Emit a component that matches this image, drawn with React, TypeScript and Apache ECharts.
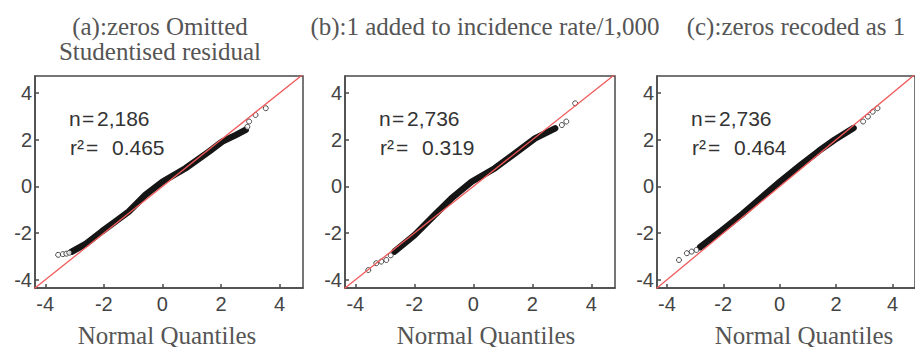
import React, { useEffect, useRef } from "react";
import * as echarts from "echarts";

// Tick values shared by all panels
const tickValues = [-4, -2, 0, 2, 4];

// Panel titles and annotations
const titles = ["(a):zeros Omitted", "(b):1 added to incidence rate/1,000", "(c):zeros recoded as 1"];
const subTitle = "Studentised residual";
const xAxisName = "Normal Quantiles";
const nLabels = ["2,186", "2,736", "2,736"];
const r2Labels = ["0.465", "0.319", "0.464"];

// Q-Q bands (theoretical quantile, studentised residual)
const bandA = [[-3.09, -2.79], [-2.6, -2.45], [-2.07, -1.93], [-1.61, -1.51], [-1.15, -1.08], [-0.58, -0.36], [0, 0.2], [0.79, 0.78], [1.59, 1.49], [2.04, 1.92], [2.5, 2.2], [2.84, 2.42]];
const tailA = [[-3.56, -2.93], [-3.4, -2.9], [-3.28, -2.88], [-3.18, -2.84], [2.9, 2.55], [2.96, 2.78], [3.18, 3.06], [3.53, 3.35]];

const bandB = [[-2.67, -2.79], [-1.99, -2.08], [-1.31, -1.22], [-0.74, -0.51], [-0.06, 0.2], [0.73, 0.78], [1.41, 1.42], [2.09, 2.06], [2.77, 2.49]];
const tailB = [[-3.56, -3.58], [-3.29, -3.29], [-3.12, -3.22], [-2.95, -3.15], [-2.8, -2.95], [3.0, 2.63], [3.15, 2.78], [3.45, 3.56]];

const bandC = [[-2.82, -2.6], [-2.1, -1.93], [-1.32, -1.18], [-0.64, -0.47], [0.03, 0.22], [0.71, 0.88], [1.39, 1.52], [1.95, 2.0], [2.62, 2.5]];
const tailC = [[-3.57, -3.15], [-3.29, -2.86], [-3.12, -2.79], [-2.95, -2.72], [2.96, 2.78], [3.13, 2.99], [3.3, 3.2], [3.47, 3.35]];

const refLine = [[-6, -6], [6, 6]];

const bands = [bandA, bandB, bandC];
const tails = [tailA, tailB, tailC];

const W = 915;
const H = 347;

export default function App() {
  const ref = useRef<HTMLDivElement>(null);
  useEffect(() => {
    if (!ref.current) return;
    const chart = echarts.init(ref.current, null, { renderer: "svg" });

    const panels = [
      { left: 35, width: 268, titleX: 160, labelX: 167 },
      { left: 345, width: 270, titleX: 485, labelX: 486 },
      { left: 657, width: 268, titleX: 796, labelX: 804 },
    ];
    const top = 76;
    const height = 212;
    const axisColor = "#4a4a4a";
    const sans = "'Liberation Sans', Arial, sans-serif";
    const serif = "'Liberation Serif', 'Times New Roman', serif";

    const grid = panels.map((p) => ({
      left: p.left,
      top,
      width: p.width,
      height,
      show: true,
      borderColor: axisColor,
      borderWidth: 1.5,
      backgroundColor: "transparent",
    }));

    const xAxis = panels.map((_, i) => ({
      type: "value",
      gridIndex: i,
      min: -4.35,
      max: 4.8,
      splitLine: { show: false },
      axisLine: { show: true, onZero: false, lineStyle: { color: axisColor, width: 1.5 } },
      axisTick: { show: true, inside: true, length: 4, customValues: tickValues, lineStyle: { color: axisColor, width: 1.5 } },
      axisLabel: { customValues: tickValues, color: "#444", fontSize: 20, fontFamily: sans, margin: 6 },
    }));

    const yAxis = panels.map((_, i) => ({
      type: "value",
      gridIndex: i,
      min: -4.35,
      max: 4.73,
      splitLine: { show: false },
      axisLine: { show: true, onZero: false, lineStyle: { color: axisColor, width: 1.5 } },
      axisTick: { show: true, inside: true, length: 4, customValues: tickValues, lineStyle: { color: axisColor, width: 1.5 } },
      axisLabel: { customValues: tickValues, color: "#444", fontSize: 20, fontFamily: sans, margin: 3 },
    }));

    const series: any[] = [];
    panels.forEach((_, i) => {
      series.push({
        type: "line",
        xAxisIndex: i,
        yAxisIndex: i,
        data: bands[i],
        symbol: "none",
        lineStyle: { color: "#151515", width: 6.5, cap: "round", join: "round" },
        z: 2,
      });
      series.push({
        type: "scatter",
        xAxisIndex: i,
        yAxisIndex: i,
        data: tails[i],
        symbol: "circle",
        symbolSize: 5,
        itemStyle: { color: "#ffffff", borderColor: "#222", borderWidth: 1 },
        z: 2,
      });
      series.push({
        type: "line",
        xAxisIndex: i,
        yAxisIndex: i,
        data: refLine,
        symbol: "none",
        clip: true,
        lineStyle: { color: "#f05a5a", width: 1.3 },
        z: 3,
      });
    });

    const graphic: any[] = [];
    panels.forEach((p, i) => {
      graphic.push({
        type: "text",
        x: p.titleX,
        y: 26,
        style: { text: titles[i], font: `25px ${serif}`, fill: "#555", align: "center", verticalAlign: "middle" },
      });
      graphic.push({
        type: "text",
        x: p.labelX,
        y: 335,
        style: { text: xAxisName, font: `25px ${serif}`, fill: "#555", align: "center", verticalAlign: "middle" },
      });
      const bx = p.left;
      const f = `21px ${sans}`;
      graphic.push({ type: "text", x: bx + 34, y: 118, style: { text: "n", font: f, fill: "#333", verticalAlign: "middle" } });
      graphic.push({ type: "text", x: bx + 47, y: 118, style: { text: "=", font: f, fill: "#333", verticalAlign: "middle" } });
      graphic.push({ type: "text", x: bx + 62, y: 118, style: { text: nLabels[i], font: f, fill: "#333", verticalAlign: "middle" } });
      graphic.push({ type: "text", x: bx + 35, y: 147, style: { text: "r\u00B2", font: f, fill: "#333", verticalAlign: "middle" } });
      graphic.push({ type: "text", x: bx + 51, y: 147, style: { text: "=", font: f, fill: "#333", verticalAlign: "middle" } });
      graphic.push({ type: "text", x: bx + 77, y: 147, style: { text: r2Labels[i], font: f, fill: "#333", verticalAlign: "middle" } });
    });
    graphic.push({
      type: "text",
      x: panels[0].titleX,
      y: 51,
      style: { text: subTitle, font: `25px ${serif}`, fill: "#555", align: "center", verticalAlign: "middle" },
    });

    chart.setOption({
      animation: false,
      backgroundColor: "#ffffff",
      grid,
      xAxis,
      yAxis,
      series,
      graphic,
    });
    return () => chart.dispose();
  }, []);

  return (
    <div
      ref={ref}
      style={{ position: "fixed", left: 0, top: 0, width: W, height: H, background: "#fff" }}
    />
  );
}
